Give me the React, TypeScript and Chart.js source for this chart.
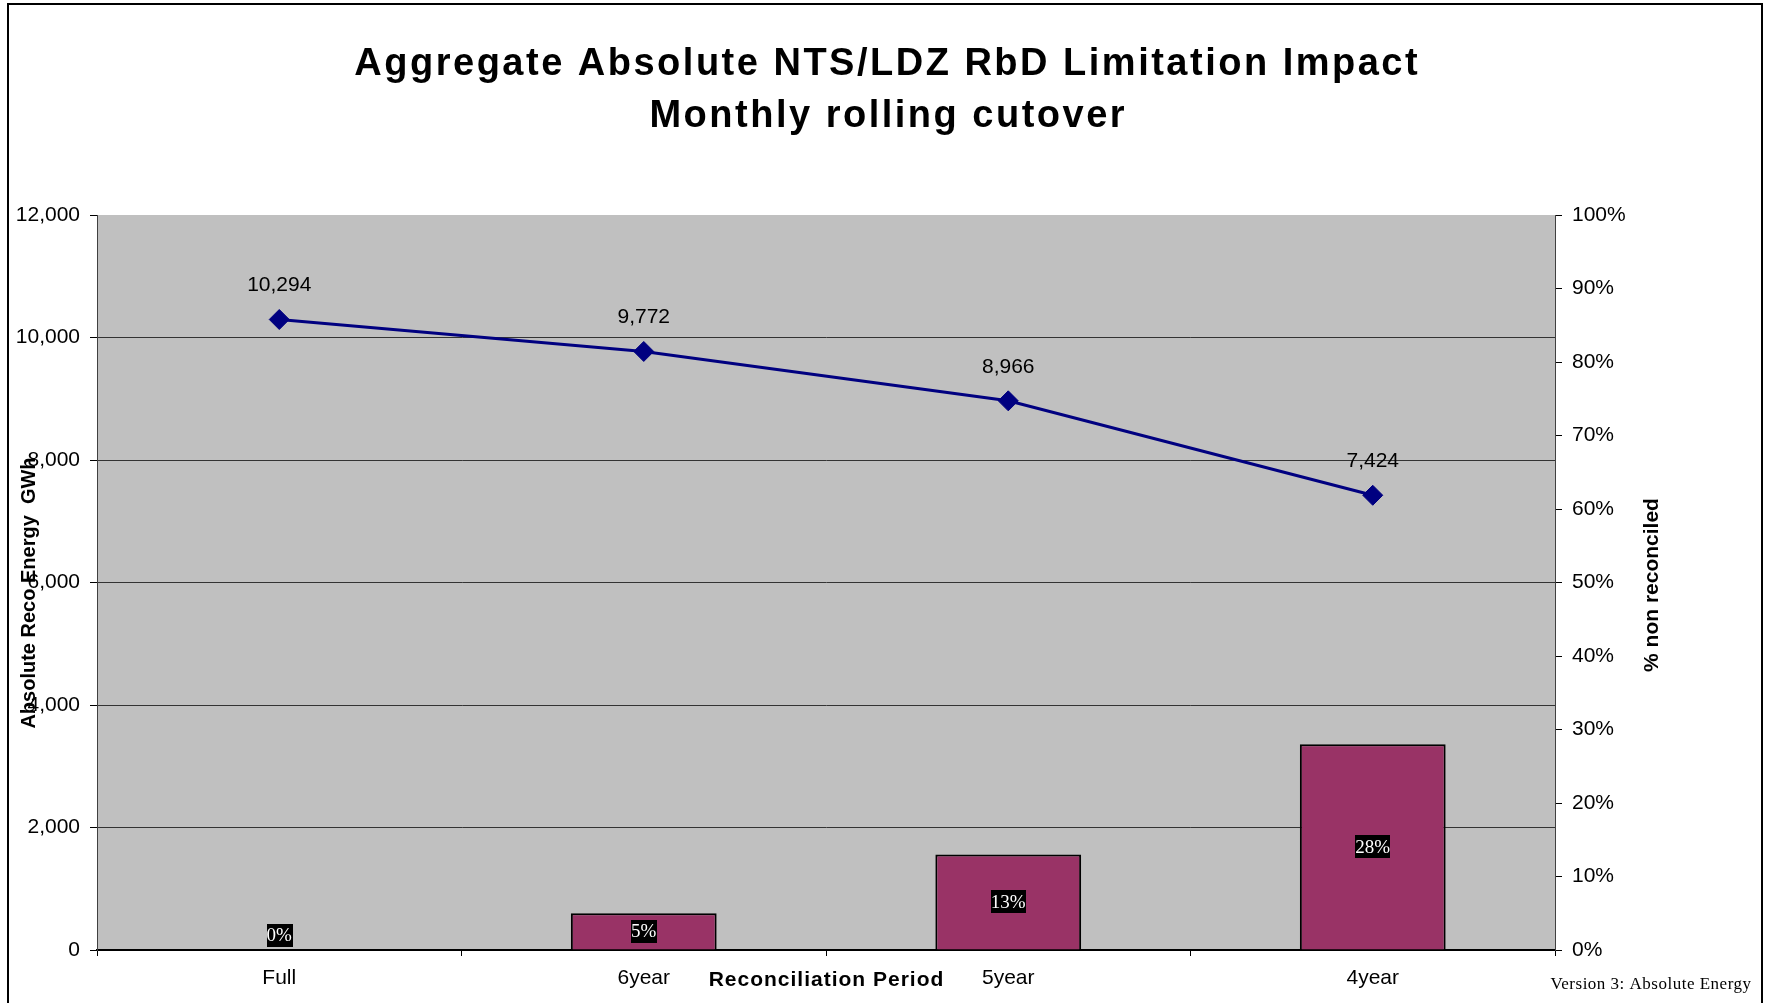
import React, { useEffect, useRef } from 'react';
import { Chart, registerables } from 'chart.js';

Chart.register(...registerables);

// ---- data ----
const categories = ['Full', '6year', '5year', '4year'];
const absoluteEnergyGWh = [10294, 9772, 8966, 7424];
const nonReconciledShare = [0, 0.05, 0.13, 0.28];
const energyTicks = [0, 2000, 4000, 6000, 8000, 10000, 12000];
const shareTicks = [0, 0.1, 0.2, 0.3, 0.4, 0.5, 0.6, 0.7, 0.8, 0.9, 1.0];
const titleLines = ['Aggregate Absolute NTS/LDZ RbD Limitation Impact', 'Monthly rolling cutover'];
const xAxisTitle = 'Reconciliation Period';
const leftAxisTitle = 'Absolute Reco Energy  GWh';
const rightAxisTitle = '% non reconciled';
const footnote = 'Version 3: Absolute Energy';

const SANS = '"Liberation Sans", Arial, sans-serif';
const SERIF = '"Liberation Serif", "Times New Roman", serif';

function drawText(
  ctx: CanvasRenderingContext2D,
  text: string,
  x: number,
  y: number,
  font: string,
  color: string,
  align: CanvasTextAlign,
  baseline: CanvasTextBaseline,
  spacing: number
) {
  ctx.save();
  ctx.font = font;
  ctx.fillStyle = color;
  ctx.textAlign = align;
  ctx.textBaseline = baseline;
  (ctx as any).letterSpacing = spacing + 'px';
  let dx = 0;
  if (align === 'center') dx = spacing / 2;
  if (align === 'right') dx = spacing;
  ctx.fillText(text, x + dx, y);
  ctx.restore();
}

const decorPlugin = {
  id: 'decor',
  beforeDraw(chart: any) {
    const { ctx, chartArea: a } = chart;
    ctx.save();
    ctx.fillStyle = '#ffffff';
    ctx.fillRect(0, 0, chart.width, chart.height);
    ctx.fillStyle = '#C0C0C0';
    ctx.fillRect(a.left, a.top, a.right - a.left, a.bottom - a.top);
    ctx.restore();
  },
  afterDatasetsDraw(chart: any) {
    const ctx: CanvasRenderingContext2D = chart.ctx;
    // line labels
    const lineMeta = chart.getDatasetMeta(0);
    lineMeta.data.forEach((el: any, i: number) => {
      const v = absoluteEnergyGWh[i];
      drawText(ctx, v.toLocaleString('en-US'), el.x, el.y - 34, `21px ${SANS}`, '#000', 'center', 'middle', 0);
    });
    // bar labels
    const barMeta = chart.getDatasetMeta(1);
    barMeta.data.forEach((el: any, i: number) => {
      const v = nonReconciledShare[i];
      const txt = Math.round(v * 100) + '%';
      let cy = (el.y + el.base) / 2;
      if (cy > el.base - 15) cy = el.base - 15;
      ctx.save();
      ctx.font = `19px ${SERIF}`;
      (ctx as any).letterSpacing = '0px';
      const w = ctx.measureText(txt).width;
      ctx.fillStyle = '#000';
      ctx.fillRect(Math.round(el.x - w / 2), Math.round(cy - 11.5), Math.ceil(w), 23);
      ctx.restore();
      drawText(ctx, txt, el.x, cy + 1, `19px ${SERIF}`, '#fff', 'center', 'middle', 0);
    });
  },
  afterDraw(chart: any) {
    const ctx: CanvasRenderingContext2D = chart.ctx;
    const a = chart.chartArea;
    // frame
    ctx.save();
    ctx.strokeStyle = '#000';
    ctx.lineWidth = 2;
    ctx.strokeRect(8, 4, 1754, 1020);
    ctx.restore();
    // title
    drawText(ctx, titleLines[0], 886, 75, `bold 38px ${SANS}`, '#000', 'center', 'alphabetic', 2.5);
    drawText(ctx, titleLines[1], 887, 127, `bold 38px ${SANS}`, '#000', 'center', 'alphabetic', 2.5);
    // x axis title (sits on tick-label row)
    drawText(ctx, xAxisTitle, (a.left + a.right) / 2, 980, `bold 21px ${SANS}`, '#000', 'center', 'middle', 1);
    // left axis title
    ctx.save();
    ctx.translate(35, 593);
    ctx.rotate(-Math.PI / 2);
    drawText(ctx, leftAxisTitle, 0, 0, `bold 20px ${SANS}`, '#000', 'center', 'alphabetic', 0);
    ctx.restore();
    // right axis title
    ctx.save();
    ctx.translate(1658, 585);
    ctx.rotate(-Math.PI / 2);
    drawText(ctx, rightAxisTitle, 0, 0, `bold 21px ${SANS}`, '#000', 'center', 'alphabetic', 0);
    ctx.restore();
    // footnote
    drawText(ctx, footnote, 1751, 989, `17px ${SERIF}`, '#000', 'right', 'alphabetic', 0.5);
  },
};

export default function App() {
  const ref = useRef<HTMLCanvasElement>(null);

  useEffect(() => {
    const canvas = ref.current;
    if (!canvas) return;
    const chart = new Chart(canvas, {
      type: 'bar',
      data: {
        labels: categories,
        datasets: [
          {
            type: 'line',
            label: 'Absolute energy',
            data: absoluteEnergyGWh,
            yAxisID: 'y',
            borderColor: '#000080',
            backgroundColor: '#000080',
            borderWidth: 3,
            pointStyle: 'rectRot',
            pointRadius: 10,
            pointBorderWidth: 1,
            pointBackgroundColor: '#000080',
            pointBorderColor: '#000080',
            tension: 0,
            order: 0,
          } as any,
          {
            type: 'bar',
            label: '% non reconciled',
            data: nonReconciledShare,
            yAxisID: 'y1',
            backgroundColor: '#993366',
            borderColor: '#000000',
            borderWidth: 2,
            categoryPercentage: 0.8,
            barPercentage: 0.5,
            order: 1,
          } as any,
        ],
      },
      options: {
        responsive: false,
        maintainAspectRatio: false,
        animation: false,
        devicePixelRatio: 1,
        layout: { padding: { top: 215, left: 0, right: 0, bottom: 0 } },
        plugins: {
          legend: { display: false },
          title: { display: false },
          tooltip: { enabled: false },
        },
        scales: {
          x: {
            type: 'category',
            position: 'bottom',
            offset: true,
            grid: {
              offset: true,
              drawOnChartArea: false,
              drawTicks: true,
              tickLength: 6,
              tickColor: '#000',
            },
            border: { display: true, color: '#000', width: 2 },
            ticks: {
              color: '#000',
              font: { family: SANS, size: 21 },
              padding: 10,
              maxRotation: 0,
              autoSkip: false,
            },
            afterFit: (s: any) => {
              s.height = 53;
            },
          },
          y: {
            type: 'linear',
            position: 'left',
            min: 0,
            max: 12000,
            afterBuildTicks: (s: any) => {
              s.ticks = energyTicks.map((v) => ({ value: v }));
            },
            grid: {
              color: (c: any) =>
                c.tick && (c.tick.value === 0 || c.tick.value === 12000) ? 'rgba(0,0,0,0)' : '#333333',
              lineWidth: 1,
              tickLength: 7,
              tickColor: '#000',
            },
            border: { display: true, color: '#404040', width: 1 },
            ticks: {
              color: '#000',
              font: { family: SANS, size: 21 },
              padding: 10,
              callback: (v: any) => Number(v).toLocaleString('en-US'),
            },
            afterFit: (s: any) => {
              s.width = 97;
            },
          },
          y1: {
            type: 'linear',
            position: 'right',
            min: 0,
            max: 1,
            afterBuildTicks: (s: any) => {
              s.ticks = shareTicks.map((v) => ({ value: v }));
            },
            grid: {
              drawOnChartArea: false,
              tickLength: 7,
              tickColor: '#000',
            },
            border: { display: true, color: '#404040', width: 1 },
            ticks: {
              color: '#000',
              font: { family: SANS, size: 21 },
              padding: 10,
              callback: (v: any) => Math.round(Number(v) * 100) + '%',
            },
            afterFit: (s: any) => {
              s.width = 212;
            },
          },
        },
      } as any,
      plugins: [decorPlugin as any],
    });
    return () => chart.destroy();
  }, []);

  return (
    <div style={{ position: 'fixed', left: 0, top: 0, width: 1767, height: 1003, background: '#fff' }}>
      <canvas ref={ref} width={1767} height={1003} style={{ width: 1767, height: 1003, display: 'block' }} />
    </div>
  );
}
